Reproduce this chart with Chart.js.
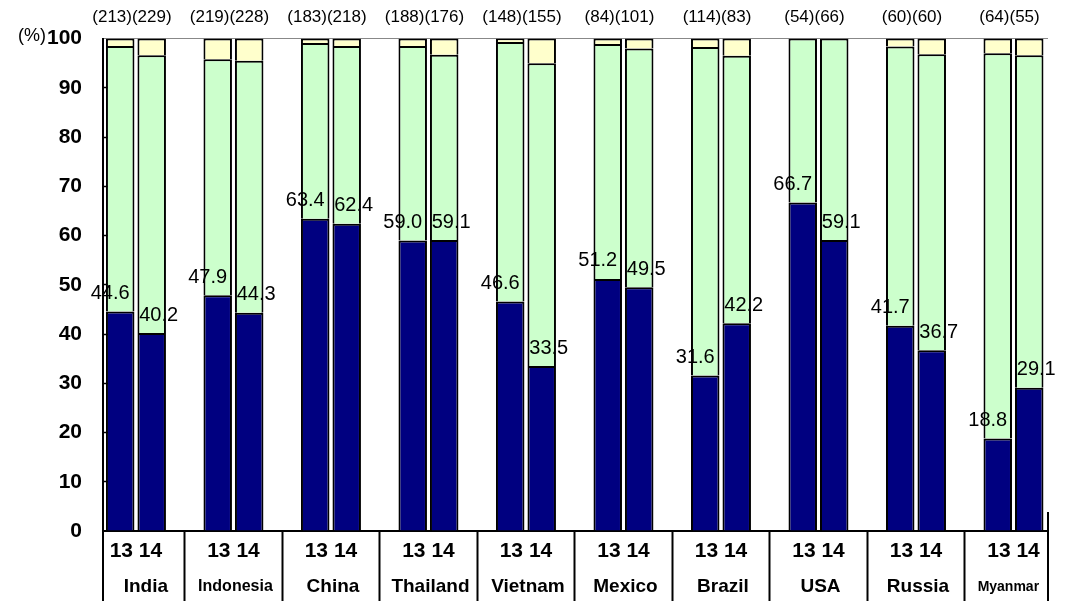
<!DOCTYPE html>
<html>
<head>
<meta charset="utf-8">
<style>
html,body{margin:0;padding:0;background:#fff;overflow:hidden}
#wrap{width:1066px;height:601px;position:relative}
</style>
<script src="https://cdn.jsdelivr.net/npm/chart.js@4.4.1/dist/chart.umd.min.js"></script>
</head>
<body>
<div id="wrap"><canvas id="c"></canvas></div>
<script>
// ---- data ----
const countries = ['India','Indonesia','China','Thailand','Vietnam','Mexico','Brazil','USA','Russia','Myanmar'];
const years = ['13','14'];
const count13 = [213,219,183,188,148,84,114,54,60,64];
const count14 = [229,228,218,176,155,101,83,66,60,55];
const dark13 = [44.6,47.9,63.4,59.0,46.6,51.2,31.6,66.7,41.7,18.8];
const dark14 = [40.2,44.3,62.4,59.1,33.5,49.5,42.2,59.1,36.7,29.1];
const green13 = [53.9,47.9,35.7,39.5,52.7,47.7,66.7,33.3,56.7,78.2];
const green14 = [56.4,51.2,36.1,37.6,61.5,48.5,54.3,40.9,60.1,67.5];
const yellow13 = [1.5,4.2,0.9,1.5,0.7,1.1,1.7,0,1.6,3.0];
const yellow14 = [3.4,4.5,1.5,3.3,5.0,2.0,3.5,0,3.2,3.4];
const yTickValues = [0,10,20,30,40,50,60,70,80,90,100];

// ---- style ----
const FONT = "'Liberation Sans', Arial, sans-serif";
const NAVY = '#000080', GREEN = '#CCFFCC', YELLOW = '#FFFFCC';
const countryFontSize = [19,16,19,19,19,19,19,19,19,14];

const pts = arr => arr.map((v, i) => ({x: i, y: v}));
const seg = (label, arr, color, stack, dark) => ({
  label, data: pts(arr), backgroundColor: color, stack,
  borderColor: '#000', borderWidth: {top: 2, left: 2, right: 2, bottom: 0},
  borderSkipped: false, isDark: dark
});

const datasets = [
  seg('13 share', dark13, NAVY, '13', true),
  seg('13 mid', green13, GREEN, '13', false),
  seg('13 top', yellow13, YELLOW, '13', false),
  seg('14 share', dark14, NAVY, '14', true),
  seg('14 mid', green14, GREEN, '14', false),
  seg('14 top', yellow14, YELLOW, '14', false)
];

const valueLabels = {
  id: 'valueLabels',
  afterDatasetsDraw(chart) {
    const ctx = chart.ctx;
    ctx.save();
    ctx.fillStyle = '#000';
    ctx.font = '20px ' + FONT;
    ctx.textAlign = 'center';
    ctx.textBaseline = 'middle';
    chart.data.datasets.forEach((ds, di) => {
      if (!ds.isDark) return;
      const meta = chart.getDatasetMeta(di);
      const dx = ds.stack === '13' ? -10 : 7;
      meta.data.forEach((el, i) => {
        ctx.fillText(ds.data[i].y.toFixed(1), el.x + dx, el.y - 18);
      });
    });
    ctx.restore();
  }
};

const tablePlugin = {
  id: 'tableText',
  afterDraw(chart) {
    const ctx = chart.ctx, xs = chart.scales.x, area = chart.chartArea;
    ctx.save();
    ctx.fillStyle = '#000';
    ctx.textBaseline = 'middle';
    ctx.textAlign = 'center';
    countries.forEach((c, i) => {
      const cx = xs.getPixelForValue(i);
      const l = Math.max(area.left, xs.getPixelForValue(i - 0.5));
      const r = Math.min(area.right, xs.getPixelForValue(i + 0.5));
      ctx.font = '17px ' + FONT;
      ctx.fillText('(' + count13[i] + ')(' + count14[i] + ')', cx - 4, 17);
      ctx.font = 'bold 21px ' + FONT;
      ctx.fillText(years.join(' '), cx, 551);
      ctx.font = 'bold ' + countryFontSize[i] + 'px ' + FONT;
      ctx.fillText(c, (l + r) / 2 + 2, 587);
    });
    ctx.textAlign = 'right';
    ctx.font = '18px ' + FONT;
    ctx.fillText('(%)', 46, 36);
    ctx.strokeStyle = '#000';
    ctx.lineWidth = 2;
    ctx.beginPath();
    ctx.moveTo(area.left, area.bottom);
    ctx.lineTo(area.left, 601);
    ctx.moveTo(area.right, area.bottom - 19);
    ctx.lineTo(area.right, 601);
    ctx.stroke();
    ctx.restore();
  }
};

Chart.defaults.font.family = FONT;
Chart.defaults.color = '#000';

new Chart(document.getElementById('c'), {
  type: 'bar',
  data: { datasets },
  options: {
    responsive: true,
    maintainAspectRatio: false,
    animation: false,
    events: [],
    layout: { padding: { top: 35, right: 18, left: 0, bottom: 0 } },
    categoryPercentage: 0.646,
    barPercentage: 0.905,
    plugins: { legend: { display: false }, tooltip: { enabled: false } },
    scales: {
      x: {
        type: 'linear',
        offset: false,
        min: -0.338,
        max: 9.354,
        afterBuildTicks: s => { s.ticks = countries.map((_, i) => ({ value: i })); },
        afterFit: s => { s.height = 70; },
        ticks: { display: false },
        grid: { offset: true, drawOnChartArea: false, drawTicks: true, tickLength: 70, tickColor: '#000', tickWidth: 2 },
        border: { display: true, color: '#000', width: 2 }
      },
      y: {
        stacked: true,
        min: 0,
        max: 100,
        afterBuildTicks: s => { s.ticks = yTickValues.map(v => ({ value: v })); },
        afterFit: s => { s.width = 103; },
        ticks: { padding: 26, font: { size: 21, weight: 'bold' }, color: '#000' },
        grid: {
          color: c => (c.tick && c.tick.value === 100) ? '#888' : 'rgba(0,0,0,0)',
          borderDash: [2, 2],
          tickColor: c => (c.tick && (c.tick.value === 0 || c.tick.value === 100)) ? 'rgba(0,0,0,0)' : '#000',
          tickLength: -5,
          tickWidth: 1.5
        },
        border: { display: true, color: '#000', width: 2 }
      }
    }
  },
  plugins: [valueLabels, tablePlugin]
});
</script>
</body>
</html>
